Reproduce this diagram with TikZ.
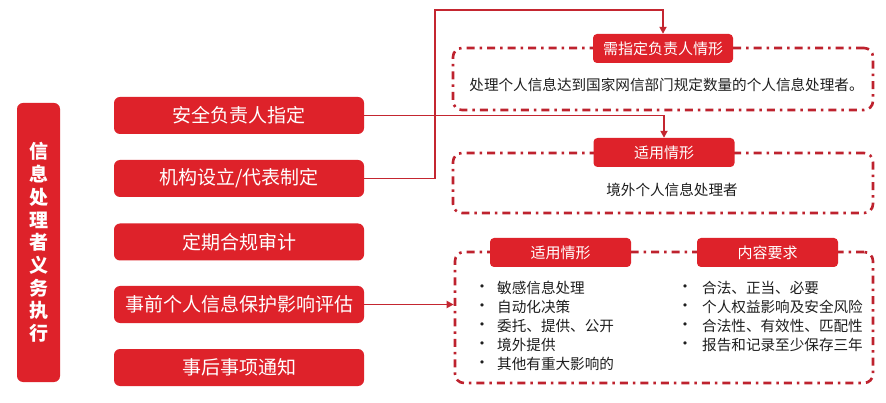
\documentclass[tikz,border=0pt]{standalone}
\usepackage{fontspec}
\setmainfont{Noto Sans CJK SC}
\newfontfamily\bulfont{DejaVu Sans}
\usetikzlibrary{arrows.meta}
\definecolor{boxred}{RGB}{222,34,42}
\definecolor{linered}{RGB}{196,38,48}
\definecolor{dashred}{RGB}{190,34,46}
\definecolor{txt}{RGB}{30,30,30}
\tikzset{
  titlebox/.style={fill=boxred, rounded corners=6pt, minimum width=43pt, minimum height=279pt, inner sep=0pt, text=white, font=\fontsize{19}{22.7}\selectfont\bfseries, align=center},
  itembox/.style={fill=boxred, rounded corners=6pt, minimum width=250pt, minimum height=37pt, inner sep=0pt, text=white, font=\fontsize{19}{19}\selectfont},
  labelbox/.style={fill=boxred, rounded corners=4pt, minimum width=141pt, minimum height=29pt, inner sep=0pt, text=white, font=\fontsize{15}{15}\selectfont},
  dashbox/.style={draw=dashred, line width=2.6pt, rounded corners=9pt, dash pattern=on 8pt off 5pt on 2.5pt off 5pt, inner sep=0pt},
  conn/.style={draw=linered, line width=1.8pt},
  arr/.style={conn, -{Triangle[length=7pt,width=7pt]}},
  plain/.style={text=txt, inner sep=0pt, font=\fontsize{14.6}{14.6}\selectfont},
  bul/.style={text=txt, inner sep=0pt, font=\bulfont\fontsize{11}{11}\selectfont},
}
\begin{document}
\begin{tikzpicture}[x=1pt,y=-1pt]
\fill[white] (0,0) rectangle (886,403);
\useasboundingbox (0,0) rectangle (886,403);

% title
\node[titlebox] (title) at (38.5,242.5) {信\\息\\处\\理\\者\\义\\务\\执\\行};

% left items
\node[itembox] (b1) at (239,115.5) {安全负责人指定};
\node[itembox] (b2) at (239,178.5) {机构设立/代表制定};
\node[itembox] (b3) at (239,242) {定期合规审计};
\node[itembox] (b4) at (239,304.5) {事前个人信息保护影响评估};
\node[itembox] (b5) at (239,367.5) {事后事项通知};

% dashed boxes
\node[dashbox, minimum width=420pt, minimum height=62pt] (d1) at (663,79) {};
\node[dashbox, minimum width=420pt, minimum height=60pt] (d2) at (663,183) {};
\node[dashbox, minimum width=418pt, minimum height=131pt] (d3) at (664,317.5) {};

% labels
\node[labelbox, minimum width=140pt] (l1) at (663,48.5) {需指定负责人情形};
\node[labelbox] (l2) at (664,152.5) {适用情形};
\node[labelbox] (l3) at (560.5,252.5) {适用情形};
\node[labelbox] (l4) at (767.5,252.5) {内容要求};

% texts
\node[plain] (t1) at (666.5,85) {处理个人信息达到国家网信部门规定数量的个人信息处理者。};
\node[plain] (t2) at (672,190) {境外个人信息处理者};

\foreach \y/\t [count=\i] in {288/敏感信息处理, 307/自动化决策, 326/委托、提供、公开, 345/境外提供, 363.5/其他有重大影响的}{
  \node[bul] (lb\i) at (482,\y) {•};
  \node[plain, anchor=west] (lt\i) at (497,\y) {\t};
}
\foreach \y/\t [count=\i] in {288/合法、正当、必要, 307/个人权益影响及安全风险, 326/合法性、有效性、匹配性, 345/报告和记录至少保存三年}{
  \node[bul] (rb\i) at (685,\y) {•};
  \node[plain, anchor=west] (rt\i) at (702,\y) {\t};
}

% connectors
\coordinate (c1) at (435,10);
\draw[arr] (b2.east) -| (c1) -| (l1.north);
\draw[arr] (b1.east) -| (l2.north);
\draw[arr] (b4.east) -- (b4.east -| d3.west);
\end{tikzpicture}
\end{document}
